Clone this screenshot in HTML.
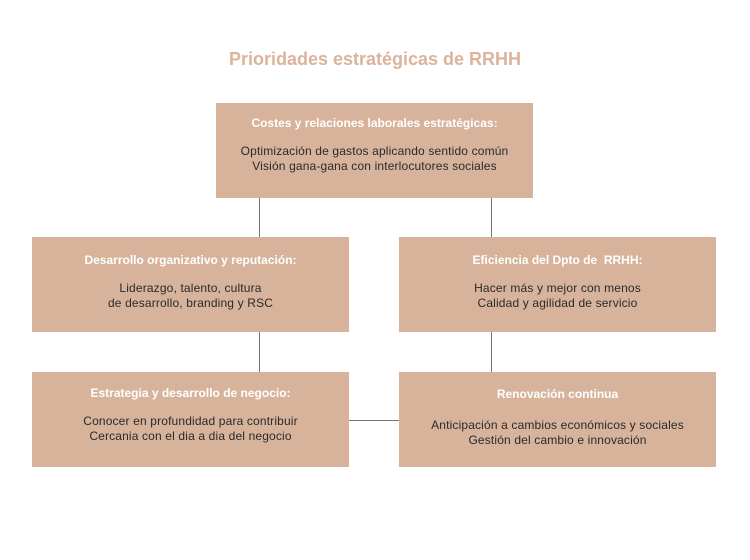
<!DOCTYPE html>
<html><head><meta charset="utf-8"><style>
body{margin:0;width:750px;height:560px;background:#fff;position:relative;font-family:"Liberation Sans",sans-serif;overflow:hidden}
.t{position:absolute;left:0;width:750px;top:49px;text-align:center;color:#dcb49b;font-weight:bold;font-size:18px}
.b{position:absolute;width:317px;height:95px;background:#d7b39b;text-align:center;color:#2a2a2a;font-size:12px;letter-spacing:0.15px;line-height:15px;box-sizing:border-box}
.b h{display:block;color:#fff;font-weight:bold;font-size:12px;letter-spacing:0;margin-bottom:13px}
.l{position:absolute;background:#777}
</style></head><body>
<div class="t">Prioridades estratégicas de RRHH</div>
<div class="l" style="left:259px;top:198px;width:1px;height:39px"></div>
<div class="l" style="left:491px;top:198px;width:1px;height:39px"></div>
<div class="l" style="left:259px;top:332px;width:1px;height:40px"></div>
<div class="l" style="left:491px;top:332px;width:1px;height:40px"></div>
<div class="l" style="left:349px;top:420px;width:50px;height:1px"></div>
<div class="b" style="left:216px;top:103px;padding-top:13px"><h>Costes y relaciones laborales estratégicas:</h>Optimización de gastos aplicando sentido común<br>Visión gana-gana con interlocutores sociales</div>
<div class="b" style="left:32px;top:237px;padding-top:16px"><h>Desarrollo organizativo y reputación:</h>Liderazgo, talento, cultura<br>de desarrollo, branding y RSC</div>
<div class="b" style="left:399px;top:237px;padding-top:16px"><h>Eficiencia del Dpto de&nbsp; RRHH:</h>Hacer más y mejor con menos<br>Calidad y agilidad de servicio</div>
<div class="b" style="left:32px;top:372px;padding-top:14px"><h>Estrategia y desarrollo de negocio:</h>Conocer en profundidad para contribuir<br>Cercania con el dia a dia del negocio</div>
<div class="b" style="left:399px;top:372px;padding-top:15px"><h style="margin-bottom:16px">Renovación continua</h>Anticipación a cambios económicos y sociales<br>Gestión del cambio e innovación</div>
</body></html>
